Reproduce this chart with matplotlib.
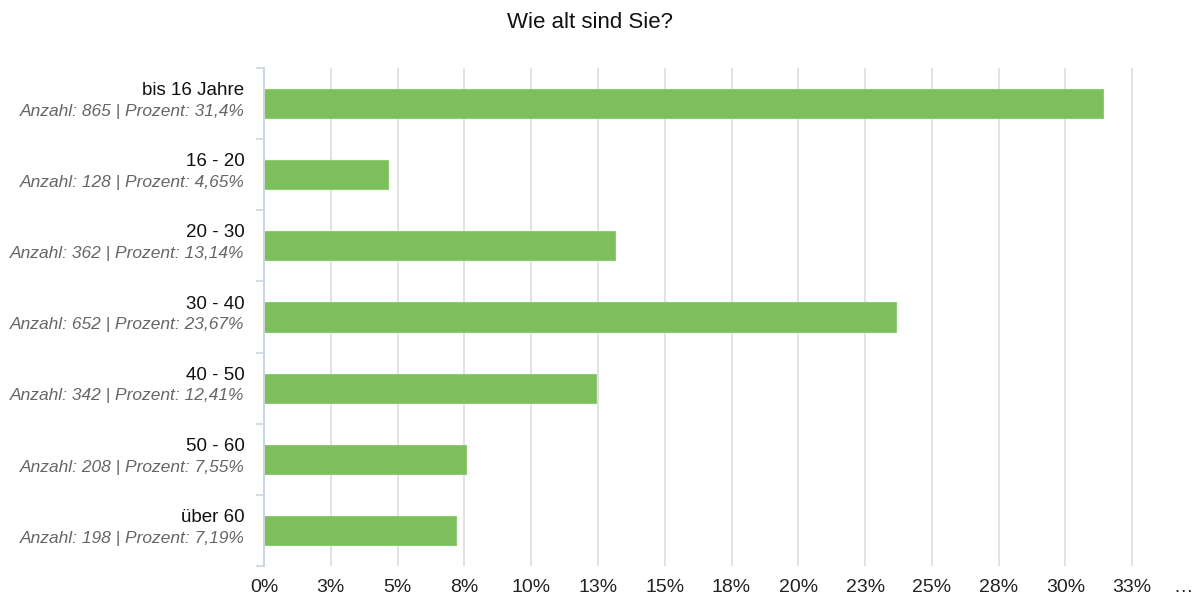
import matplotlib.pyplot as plt

plt.rcParams['font.family'] = ['Liberation Sans', 'DejaVu Sans']

categories = ['bis 16 Jahre', '16 - 20', '20 - 30', '30 - 40', '40 - 50', '50 - 60', 'über 60']
counts = [865, 128, 362, 652, 342, 208, 198]
percents = [31.4, 4.65, 13.14, 23.67, 12.41, 7.55, 7.19]
pct_labels = ['31,4', '4,65', '13,14', '23,67', '12,41', '7,55', '7,19']
tick_values = [0, 2.5, 5, 7.5, 10, 12.5, 15, 17.5, 20, 22.5, 25, 27.5, 30, 32.5]
tick_labels = ['0%', '3%', '5%', '8%', '10%', '13%', '15%', '18%', '20%', '23%', '25%', '28%', '30%', '33%']

fig = plt.figure(figsize=(11.95, 5.97), dpi=100)
W, H = 1195, 597
left_px, top_px, bottom_px = 264, 68, 566
# 35% would sit at ~1199 px, just past the right edge
xmax = 35 * (W - left_px) / (1199 - left_px)
ax = fig.add_axes([left_px / W, 1 - bottom_px / H, (W - left_px) / W, (bottom_px - top_px) / H])

n = len(categories)
ypos = list(range(n))
ax.barh(ypos, percents, height=0.41, color='#7cbf5c', edgecolor='#8fcc73', linewidth=0.8, zorder=3)

ax.set_xlim(0, xmax)
ax.set_ylim(n - 0.5, -0.5)
ax.set_xticks(tick_values)
ax.set_xticklabels(tick_labels, fontsize=14, color='#222222')
ax.tick_params(axis='x', length=0, pad=9)
ax.grid(axis='x', color='#dddddd', linewidth=1.2, zorder=0)

# category boundary ticks on the y axis
ax.set_yticks([i - 0.5 for i in range(n + 1)])
ax.set_yticklabels([])
ax.tick_params(axis='y', length=6, width=1.2, color='#c9d6e3')

for s in ['top', 'right', 'bottom']:
    ax.spines[s].set_visible(False)
ax.spines['left'].set_color('#c9d6e3')
ax.spines['left'].set_linewidth(1.4)
ax.spines['left'].set_zorder(4)

for i, (cat, c, p) in enumerate(zip(categories, counts, pct_labels)):
    ax.annotate(cat, xy=(0, i), xycoords='data', xytext=(-14, 9.3), textcoords='offset points',
                ha='right', va='center', fontsize=13.5, color='#111111')
    ax.annotate(f'Anzahl: {c} | Prozent: {p}%', xy=(0, i), xycoords='data', xytext=(-14, -5.6),
                textcoords='offset points', ha='right', va='center', fontsize=12.5,
                style='italic', color='#666666')

ax.annotate('…', xy=(34.4, n - 0.5), xytext=(0, -9), textcoords='offset points',
            ha='center', va='top', fontsize=14, color='#222222', annotation_clip=False)

fig.text(590 / W, 1 - 22 / H, 'Wie alt sind Sie?', ha='center', va='center', fontsize=16,
         color='#111111')

fig.savefig('out.png', dpi=100)
